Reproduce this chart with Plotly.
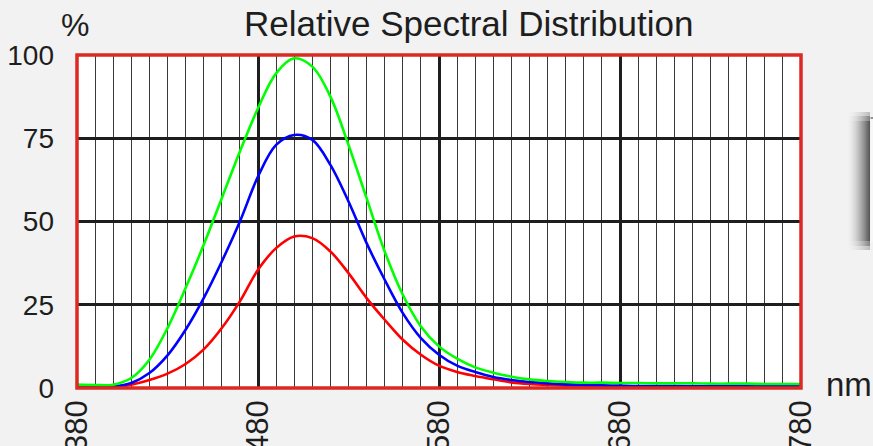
import plotly.graph_objects as go

# ---- data ----
wavelength = list(range(380, 790, 10))

green = [1.0, 0.9, 1.0, 3.0, 8.5, 18.0, 30.0, 43.0, 57.0, 71.0,
         84.0, 94.5, 99.0, 96.5, 87.5, 73.0, 57.0, 41.0, 28.0, 18.5,
         12.5, 8.8, 6.2, 4.6, 3.4, 2.6, 2.1, 1.8, 1.6, 1.6,
         1.5, 1.5, 1.4, 1.4, 1.4, 1.3, 1.3, 1.3, 1.2, 1.2, 1.2]

blue = [0.2, 0.2, 0.4, 1.5, 4.5, 9.8, 17.5, 27.0, 38.0, 50.0,
        63.5, 73.0, 76.0, 74.5, 67.0, 56.0, 43.5, 32.5, 22.5, 15.0,
        10.0, 6.7, 4.8, 3.3, 2.4, 1.8, 1.4, 1.1, 0.9, 0.8,
        0.7, 0.6, 0.6, 0.6, 0.5, 0.5, 0.5, 0.5, 0.5, 0.5, 0.5]

red = [0.1, 0.1, 0.3, 1.0, 2.4, 4.3, 7.2, 11.6, 18.0, 26.0,
       35.5, 42.0, 45.5, 45.0, 41.0, 34.5, 27.0, 20.5, 14.5, 10.0,
       6.7, 4.8, 3.6, 2.6, 1.7, 1.2, 0.9, 0.7, 0.5, 0.4,
       0.3, 0.3, 0.3, 0.3, 0.3, 0.3, 0.3, 0.3, 0.3, 0.3, 0.3]

x_ticks = [380, 480, 580, 680, 780]
y_ticks = [0, 25, 50, 75, 100]

title_text = "Relative Spectral Distribution"
y_unit = "%"
x_unit = "nm"

FONT = "Liberation Sans, Arial, sans-serif"

fig = go.Figure()
for vals, col in [(red, "#ff0000"), (blue, "#0000ff"), (green, "#00ff00")]:
    fig.add_trace(go.Scatter(x=wavelength, y=vals, mode="lines",
                             line=dict(color=col, width=2.6, shape="spline", smoothing=1.0),
                             showlegend=False, hoverinfo="skip"))

W, H = 873, 446
L, R, T, B = 77, 72, 55, 58
pw, ph = W - L - R, H - T - B


def px_x(px):
    return (px - L) / pw


def px_y(py):
    return (H - B - py) / ph


shapes = []
# drop shadow of a (cut-off) legend box on the right
n = 22
for i in range(n):
    t = (i + 1) / n
    g = int(242 - (t ** 1.6) * (242 - 88))
    for (ya, yb, k) in [(112, 250, 0.35), (116, 246, 0.7), (121, 241, 1.0)]:
        gg = int(242 - (242 - g) * k)
        shapes.append(dict(type="rect", xref="paper", yref="paper",
                           x0=px_x(848 + i), x1=px_x(849 + i),
                           y0=px_y(yb), y1=px_y(ya),
                           fillcolor=f"rgb({gg},{gg},{gg})", line=dict(width=0), layer="above"))
shapes.append(dict(type="rect", xref="paper", yref="paper",
                   x0=px_x(870.5), x1=px_x(874), y0=px_y(242), y1=px_y(118),
                   fillcolor="#f7f7f7", line=dict(width=0), layer="above"))
shapes.append(dict(type="line", xref="paper", yref="paper",
                   x0=px_x(870.5), x1=px_x(874), y0=px_y(118), y1=px_y(118),
                   line=dict(color="#333", width=1), layer="above"))
# red frame
shapes.append(dict(type="rect", xref="paper", yref="paper", x0=0, x1=1, y0=0, y1=1,
                   line=dict(color="#dc2a22", width=3.5), layer="above"))

annotations = [
    dict(text=title_text, xref="paper", yref="paper", x=px_x(468.5), y=px_y(24),
         xanchor="center", yanchor="middle", showarrow=False,
         font=dict(family=FONT, size=35, color="#1e1e1e")),
    dict(text=y_unit, xref="paper", yref="paper", x=px_x(75), y=px_y(25),
         xanchor="center", yanchor="middle", showarrow=False,
         font=dict(family=FONT, size=32, color="#1e1e1e")),
    dict(text=x_unit, xref="paper", yref="paper", x=px_x(849), y=px_y(384),
         xanchor="center", yanchor="middle", showarrow=False,
         font=dict(family=FONT, size=33, color="#1e1e1e")),
]

fig.update_layout(
    width=W, height=H,
    margin=dict(l=L, r=R, t=T, b=B, autoexpand=False),
    paper_bgcolor="#f2f2f2", plot_bgcolor="#ffffff",
    font=dict(family=FONT, color="#1e1e1e"),
    shapes=shapes, annotations=annotations,
    xaxis=dict(range=[380, 780], tickmode="array", tickvals=x_ticks,
               ticktext=[str(v) for v in x_ticks], tickangle=-90,
               tickfont=dict(size=31, color="#1e1e1e"), ticks="",
               ticklabelstandoff=5,
               showgrid=True, gridcolor="#1e1e1e", gridwidth=2.5,
               minor=dict(tick0=380, dtick=10, showgrid=True, gridcolor="#3a3a3a", gridwidth=1),
               zeroline=False, showline=False, automargin=False, fixedrange=True),
    yaxis=dict(range=[0, 100], tickmode="array", tickvals=y_ticks,
               ticktext=[str(v) for v in y_ticks],
               tickfont=dict(size=28, color="#1e1e1e"), ticks="",
               ticklabelstandoff=22,
               showgrid=True, gridcolor="#1e1e1e", gridwidth=2.8,
               zeroline=False, showline=False, automargin=False, fixedrange=True),
)

fig.write_html("out.html")
